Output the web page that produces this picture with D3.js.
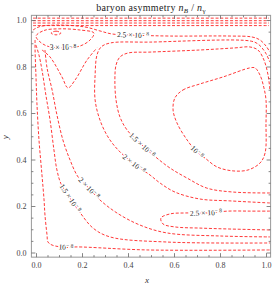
<!DOCTYPE html>
<html>
<head>
<meta charset="utf-8">
<script src="https://cdnjs.cloudflare.com/ajax/libs/d3/7.8.5/d3.min.js"></script>
<style>
body { margin: 0; background: #fff; }
</style>
</head>
<body>
<script>
// contour traces, in (x, y) data units
var loop10 = [[0.604,0.665],[0.639,0.699],[0.713,0.725],[0.813,0.755],[0.930,0.794],[0.952,0.794],[0.974,0.763],[0.991,0.708],[1.0,0.656],[1.0,0.557],[0.996,0.428],[0.974,0.385],[0.922,0.355],[0.857,0.351],[0.787,0.368],[0.735,0.406],[0.700,0.432],[0.657,0.484],[0.613,0.557],[0.596,0.613]];
var inner15 = [[1.017,0.256],[0.857,0.260],[0.743,0.277],[0.657,0.320],[0.583,0.363],[0.526,0.406],[0.461,0.462],[0.396,0.527],[0.365,0.583],[0.348,0.656],[0.343,0.742],[0.348,0.806],[0.365,0.841],[0.400,0.858],[0.496,0.862],[0.713,0.871],[0.865,0.880],[0.930,0.884],[0.965,0.871],[0.991,0.828],[1.009,0.763],[1.017,0.699]];
var inner20 = [[1.017,0.213],[0.843,0.222],[0.713,0.230],[0.604,0.260],[0.539,0.299],[0.496,0.333],[0.426,0.381],[0.357,0.441],[0.313,0.497],[0.278,0.570],[0.257,0.656],[0.257,0.763],[0.265,0.849],[0.283,0.884],[0.322,0.901],[0.496,0.905],[0.930,0.910],[0.965,0.897],[0.996,0.862],[1.017,0.819]];
var outer10 = [[-0.004,0.914],[-0.004,0.871],[0,0.755],[0.004,0.643],[0.013,0.484],[0.026,0.333],[0.035,0.226],[0.039,0.161],[0.048,0.075],[0.052,0.045],[0.070,0.032],[0.130,0.022],[0.178,0.024],[0.483,0.011],[1.017,0.011]];
var outer15 = [[0,0.892],[0.013,0.849],[0.026,0.785],[0.043,0.677],[0.061,0.570],[0.078,0.441],[0.091,0.355],[0.109,0.295],[0.148,0.234],[0.187,0.178],[0.248,0.105],[0.322,0.067],[0.570,0.045],[1.017,0.041]];
var outer20 = [[0.039,0.871],[0.048,0.794],[0.070,0.699],[0.091,0.592],[0.117,0.484],[0.148,0.398],[0.183,0.325],[0.230,0.277],[0.278,0.226],[0.352,0.170],[0.452,0.118],[0.570,0.084],[0.800,0.071],[1.017,0.067]];
var loop25 = [[1.017,0.178],[0.930,0.178],[0.835,0.178],[0.739,0.170],[0.648,0.170],[0.583,0.166],[0.543,0.148],[0.552,0.123],[0.604,0.110],[0.713,0.105],[0.843,0.101],[1.017,0.097]];
var top25 = [[-0.013,0.957],[0.017,0.972],[0.104,0.978],[0.213,0.970],[0.278,0.953],[0.330,0.940],[0.422,0.935],[0.583,0.931],[0.843,0.931],[0.939,0.927],[0.974,0.914],[1.0,0.888],[1.017,0.862]];
var vee = [[0.026,0.871],[0.061,0.841],[0.113,0.755],[0.139,0.708],[0.170,0.742],[0.222,0.828],[0.265,0.880]];
var loop30 = [[0,0.931],[0.035,0.955],[0.104,0.962],[0.191,0.957],[0.252,0.944],[0.235,0.914],[0.191,0.888],[0.117,0.880],[0.048,0.888],[0.013,0.910]];
var loop35 = [[0.065,0.944],[0.087,0.952],[0.109,0.944],[0.087,0.936]];
var topBandY = [1.008, 0.997, 0.987, 0.976];

var openCurves = [inner15, inner20, outer10, outer15, outer20, loop25, top25, vee];
var closedCurves = [loop10, loop30, loop35];

// contour labels: level mantissa, curve it sits on, spot (a vertex of that curve)
var labelLevels = ["1", "1.5", "2", "1", "1.5", "2", "2.5", "2.5", "3"];
var labelCurves = [loop10, inner15, inner20, outer10, outer15, outer20, top25, loop25, loop30];
var labelSpots = [[0.700,0.432],[0.461,0.462],[0.426,0.381],[0.130,0.022],[0.148,0.234],[0.230,0.277],[0.422,0.935],[0.739,0.170],[0.117,0.880]];

var xMajor = [0, 0.2, 0.4, 0.6, 0.8, 1.0];
var yMajor = [0, 0.2, 0.4, 0.6, 0.8, 1.0];

var width = 276, height = 287;
var serif = "'Liberation Serif', 'DejaVu Serif', serif";

var svg = d3.select("body").append("svg")
    .attr("width", width)
    .attr("height", height);

var x = d3.scaleLinear().domain([-0.02, 1.02]).range([31.4, 270.6]);
var y = d3.scaleLinear().domain([-0.02, 1.02]).range([257.15, 15.35]);

svg.append("clipPath").attr("id", "frame-clip")
  .append("rect")
    .attr("x", x(-0.02)).attr("y", y(1.02))
    .attr("width", x(1.02) - x(-0.02)).attr("height", y(-0.02) - y(1.02));

var plot = svg.append("g").attr("clip-path", "url(#frame-clip)");

var line = d3.line()
    .x(function(d) { return x(d[0]); })
    .y(function(d) { return y(d[1]); })
    .curve(d3.curveCatmullRom.alpha(0.5));

var lineClosed = d3.line()
    .x(function(d) { return x(d[0]); })
    .y(function(d) { return y(d[1]); })
    .curve(d3.curveCatmullRomClosed.alpha(0.5));

function styleContour(sel) {
  sel.style("fill", "none")
     .style("stroke", "#ff2222")
     .style("stroke-width", "0.9px")
     .style("stroke-dasharray", "3,1.8");
}

plot.selectAll(".band")
    .data(topBandY)
    .enter().append("path")
    .attr("class", "band")
    .attr("d", function(v) { return line([[-0.013, v], [0.5, v], [1.013, v]]); })
    .call(styleContour);

plot.selectAll(".open")
    .data(openCurves)
    .enter().append("path")
    .attr("class", "open")
    .attr("d", line)
    .call(styleContour);

plot.selectAll(".closed")
    .data(closedCurves)
    .enter().append("path")
    .attr("class", "closed")
    .attr("d", lineClosed)
    .call(styleContour);

// labels sit on their curve, turned along it
function nearestIndex(pts, p) {
  var best = 0, bd = Infinity;
  pts.forEach(function(q, i) {
    var d = (q[0] - p[0]) * (q[0] - p[0]) + (q[1] - p[1]) * (q[1] - p[1]);
    if (d < bd) { bd = d; best = i; }
  });
  return best;
}

labelSpots.forEach(function(p, k) {
  var pts = labelCurves[k], n = pts.length;
  var i = nearestIndex(pts, p);
  var closed = closedCurves.indexOf(pts) > -1;
  var a = closed ? pts[(i - 1 + n) % n] : pts[Math.max(i - 1, 0)];
  var b = closed ? pts[(i + 1) % n] : pts[Math.min(i + 1, n - 1)];
  var ang = Math.atan2(y(b[1]) - y(a[1]), x(b[0]) - x(a[0])) * 180 / Math.PI;
  if (ang > 90) ang -= 180;
  if (ang < -90) ang += 180;

  var t = plot.append("text")
      .attr("transform", "translate(" + x(p[0]) + "," + y(p[1]) + ") rotate(" + ang + ")")
      .attr("text-anchor", "middle")
      .attr("dy", "0.32em")
      .style("font-family", serif)
      .style("font-size", "7.5px")
      .style("fill", "#222")
      .style("stroke", "#fff")
      .style("stroke-width", "2.6px")
      .style("paint-order", "stroke")
      .style("stroke-linejoin", "round");
  t.append("tspan").text(labelLevels[k] === "1" ? "10" : labelLevels[k] + " \u00d7 10");
  t.append("tspan").attr("dy", "-0.45em").style("font-size", "5.5px").text("\u2212 8");
});

// frame and ticks
var axisColor = "#666";
svg.append("rect")
    .attr("x", x(-0.02)).attr("y", y(1.02))
    .attr("width", x(1.02) - x(-0.02)).attr("height", y(-0.02) - y(1.02))
    .style("fill", "none").style("stroke", "#999").style("stroke-width", "1px");

var xMinor = d3.range(0, 1.0001, 0.05).filter(function(v) { return Math.abs(v * 5 - Math.round(v * 5)) > 1e-6; });
var yMinor = xMinor;
var fmt = d3.format(".1f");

function axisGroup(axis, tx, ty) {
  var g = svg.append("g")
      .attr("transform", "translate(" + tx + "," + ty + ")")
      .style("color", axisColor)
      .call(axis);
  g.select(".domain").remove();
  g.selectAll("line").style("stroke-width", "0.8px");
  g.selectAll("text").style("font-family", serif).style("font-size", "8px").style("fill", "#444");
  return g;
}

var bottom = y(-0.02), topY = y(1.02), left = x(-0.02), right = x(1.02);

axisGroup(d3.axisBottom(x).tickValues(xMajor).tickFormat(fmt).tickSizeInner(-4).tickSizeOuter(0).tickPadding(5), 0, bottom);
axisGroup(d3.axisBottom(x).tickValues(xMinor).tickFormat("").tickSizeInner(-2).tickSizeOuter(0), 0, bottom);
axisGroup(d3.axisTop(x).tickValues(xMajor).tickFormat("").tickSizeInner(-3.5).tickSizeOuter(0), 0, topY);
axisGroup(d3.axisTop(x).tickValues(xMinor).tickFormat("").tickSizeInner(-2).tickSizeOuter(0), 0, topY);
axisGroup(d3.axisLeft(y).tickValues(yMajor).tickFormat(fmt).tickSizeInner(-4).tickSizeOuter(0).tickPadding(5), left, 0);
axisGroup(d3.axisLeft(y).tickValues(yMinor).tickFormat("").tickSizeInner(-2).tickSizeOuter(0), left, 0);
axisGroup(d3.axisRight(y).tickValues(yMajor).tickFormat("").tickSizeInner(-4).tickSizeOuter(0), right, 0);
axisGroup(d3.axisRight(y).tickValues(yMinor).tickFormat("").tickSizeInner(-2).tickSizeOuter(0), right, 0);

// title and axis labels
var title = svg.append("text")
    .attr("x", (left + right) / 2)
    .attr("y", 10.5)
    .attr("text-anchor", "middle")
    .style("font-family", serif)
    .style("font-size", "10px")
    .style("letter-spacing", "0.3px")
    .style("fill", "#222");
title.append("tspan").text("baryon asymmetry ");
title.append("tspan").style("font-style", "italic").text("n");
title.append("tspan").attr("dy", "2").style("font-size", "7px").style("font-style", "italic").text("B");
title.append("tspan").attr("dy", "-2").text(" / ");
title.append("tspan").style("font-style", "italic").text("n");
title.append("tspan").attr("dy", "2").style("font-size", "7px").text("\u03b3");

svg.append("text")
    .attr("x", (left + right) / 2 - 4)
    .attr("y", 283)
    .attr("text-anchor", "middle")
    .style("font-family", serif)
    .style("font-style", "italic")
    .style("font-size", "9px")
    .style("fill", "#333")
    .text("x");

svg.append("text")
    .attr("transform", "translate(8," + (y(0.5) + 1) + ") rotate(-90)")
    .attr("text-anchor", "middle")
    .style("font-family", serif)
    .style("font-style", "italic")
    .style("font-size", "9px")
    .style("fill", "#333")
    .text("y");
</script>
</body>
</html>
